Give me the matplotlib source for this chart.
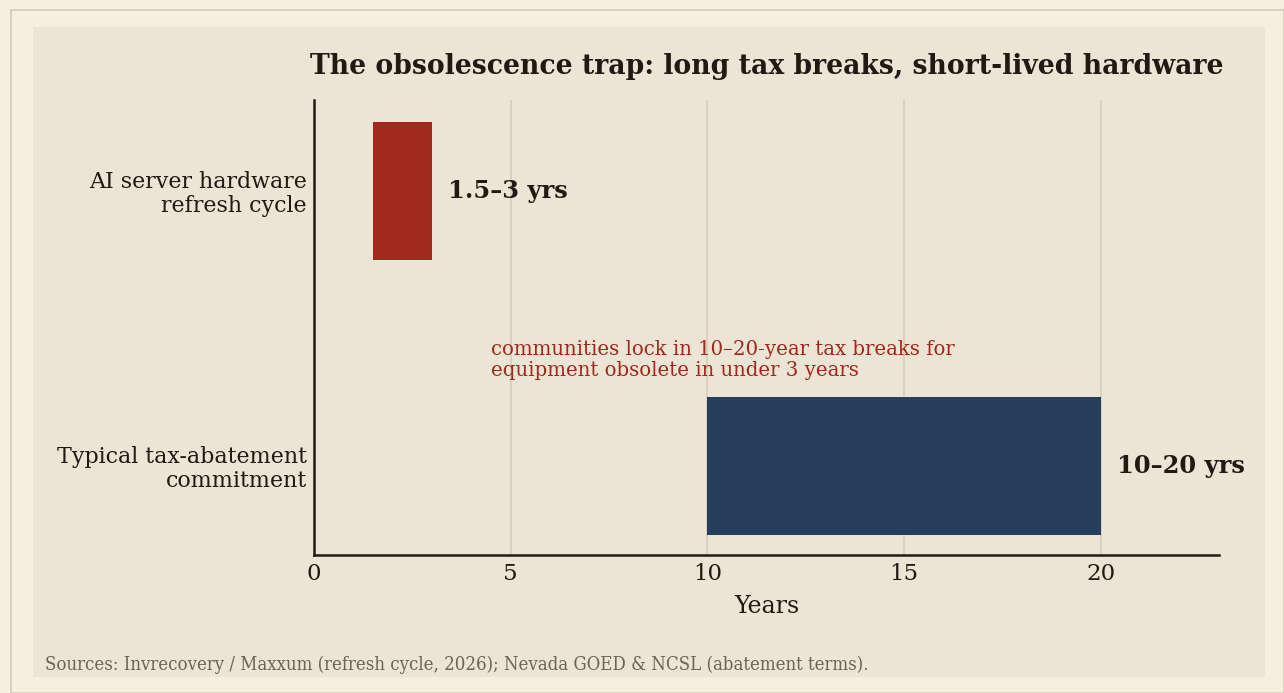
import matplotlib.pyplot as plt
from matplotlib.patches import Rectangle

# --- DATA ---
categories = ['Typical tax-abatement\ncommitment', 'AI server hardware\nrefresh cycle']
starts = [10, 1.5]
ends = [20, 3]
value_labels = ['10–20 yrs', '1.5–3 yrs']
bar_colors = ['#263E5C', '#A3281E']
xticks = [0, 5, 10, 15, 20]

title = 'The obsolescence trap: long tax breaks, short-lived hardware'
note = 'communities lock in 10–20-year tax breaks for\nequipment obsolete in under 3 years'
source = 'Sources: Invrecovery / Maxxum (refresh cycle, 2026); Nevada GOED & NCSL (abatement terms).'

# --- STYLE ---
c_outer = '#F6EFE0'
c_panel = '#ECE4D4'
c_text = '#1F1A14'
c_grid = '#D6CDBB'
c_note = '#A3281E'
c_source = '#6B6358'

plt.rcParams['font.family'] = ['DejaVu Serif']

W, H = 1284, 693
fig = plt.figure(figsize=(W / 100, H / 100), dpi=100, facecolor=c_outer)

# outer border and inner panel (figure pixel coords)
fig.patches.append(Rectangle((11 / W, 0), (W - 11) / W, (H - 10) / H, transform=fig.transFigure,
                             fc='none', ec='#D2C9B6', lw=1.2, zorder=-2))
fig.patches.append(Rectangle((33 / W, (H - 677) / H), (1265 - 33) / W, (677 - 27) / H,
                             transform=fig.transFigure, fc=c_panel, ec='none', zorder=-1))

left, right, top, bottom = 314, 1219, 100, 555
ax = fig.add_axes([left / W, (H - bottom) / H, (right - left) / W, (bottom - top) / H])
ax.set_facecolor('none')
ax.set_zorder(2)

ypos = list(range(len(categories)))
widths = [e - s for s, e in zip(starts, ends)]
ax.barh(ypos, widths, left=starts, height=0.5, color=bar_colors, zorder=3)

for y, e, lab in zip(ypos, ends, value_labels):
    ax.text(e + 0.4, y, lab, va='center', ha='left', fontsize=17.4, fontweight='bold', color=c_text)

ax.text(4.5, 0.385, note, va='center', ha='left', fontsize=14.2, color=c_note, linespacing=1.15)

ax.set_xlim(0, 23)
ax.set_ylim(-0.324, 1.331)
ax.set_xticks(xticks)
ax.set_yticks(ypos)
ax.set_yticklabels(categories, fontsize=15.9, color=c_text, linespacing=1.08)
ax.tick_params(axis='x', labelsize=16.5, colors=c_text, length=0, pad=6)
ax.tick_params(axis='y', length=0, pad=5)
ax.xaxis.grid(True, color=c_grid, lw=1.2, zorder=0)
ax.set_axisbelow(True)

for s in ['top', 'right']:
    ax.spines[s].set_visible(False)
for s in ['left', 'bottom']:
    ax.spines[s].set_color(c_text)
    ax.spines[s].set_linewidth(1.8)

ax.set_xlabel('Years', fontsize=17, color=c_text, labelpad=7)
ax.set_title(title, fontsize=19.2, fontweight='bold', color=c_text, pad=19)

fig.text(45 / W, (H - 665) / H, source, fontsize=13.3, fontstretch='condensed',
         color=c_source, va='center', ha='left')

fig.savefig('out.png', dpi=100, facecolor=c_outer)
